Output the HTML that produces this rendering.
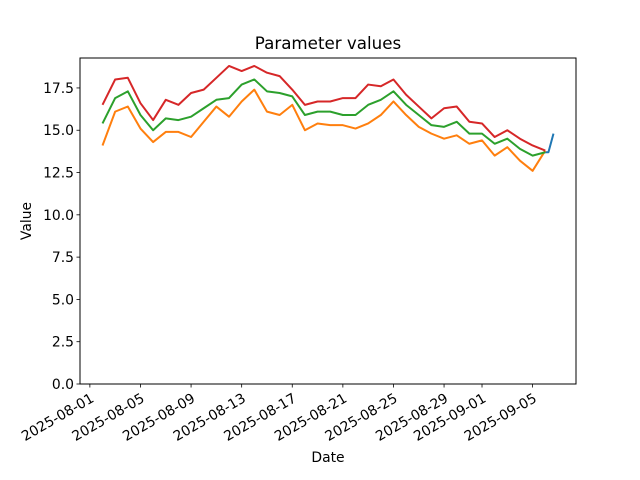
<!DOCTYPE html>
<html><head><meta charset="utf-8"><style>
html,body{margin:0;padding:0;background:#fff}
svg{display:block;font-family:"DejaVu Sans","Liberation Sans",sans-serif}
</style></head><body>
<svg id="chart" width="640" height="480" viewBox="0 0 640 480" xmlns="http://www.w3.org/2000/svg">
<rect width="640" height="480" fill="#fff"/>
<text x="328" y="49" font-size="16.7" text-anchor="middle">Parameter values</text>
<g id="plot"></g>
<rect x="80" y="58" width="496" height="326" fill="none" stroke="#000" stroke-width="1"/>
<text x="328" y="462" font-size="13.9" text-anchor="middle">Date</text>
<text x="31" y="221" font-size="13.9" text-anchor="middle" transform="rotate(-90 31 221)">Value</text>
</svg>
<script>
// days since 2025-08-01
const dayIndex = [1,2,3,4,5,6,7,8,9,10,11,12,13,14,15,16,17,18,19,20,21,22,23,24,25,26,27,28,29,30,31,32,33,34,35,36];
const redValues = [16.5,18.0,18.1,16.6,15.6,16.8,16.5,17.2,17.4,18.1,18.8,18.5,18.8,18.4,18.2,17.4,16.5,16.7,16.7,16.9,16.9,17.7,17.6,18.0,17.1,16.4,15.7,16.3,16.4,15.5,15.4,14.6,15.0,14.5,14.1,13.8];
const greenValues = [15.4,16.9,17.3,15.9,15.0,15.7,15.6,15.8,16.3,16.8,16.9,17.7,18.0,17.3,17.2,17.0,15.9,16.1,16.1,15.9,15.9,16.5,16.8,17.3,16.5,15.9,15.3,15.2,15.5,14.8,14.8,14.2,14.5,13.9,13.5,13.7];
const orangeValues = [14.1,16.1,16.4,15.1,14.3,14.9,14.9,14.6,15.5,16.4,15.8,16.7,17.4,16.1,15.9,16.5,15.0,15.4,15.3,15.3,15.1,15.4,15.9,16.7,15.9,15.2,14.8,14.5,14.7,14.2,14.4,13.5,14.0,13.2,12.6,13.8];
const blueDays = [36,36.25,36.65];
const blueValues = [13.7,13.7,14.8];
const xTickDays = [0,4,8,12,16,20,24,28,31,35];
const xTickLabels = ["2025-08-01","2025-08-05","2025-08-09","2025-08-13","2025-08-17","2025-08-21","2025-08-25","2025-08-29","2025-09-01","2025-09-05"];
const yTicks = [0,2.5,5,7.5,10,12.5,15,17.5];
const yTickLabels = ["0.0","2.5","5.0","7.5","10.0","12.5","15.0","17.5"];

const NS="http://www.w3.org/2000/svg";
const X0=80,X1=576,Y0=384,Y1=58;
const xmin=-0.78,xmax=38.43,ymin=0,ymax=19.27;
function xs(d){return X0+(d-xmin)/(xmax-xmin)*(X1-X0);}
function ys(v){return Y0-(v-ymin)/(ymax-ymin)*(Y0-Y1);}
const g=document.getElementById('plot');
function mk(t,a){const e=document.createElementNS(NS,t);for(const k in a)e.setAttribute(k,a[k]);return e;}

yTicks.forEach((v,i)=>{
  const y=ys(v);
  const t=mk('line',{x1:X0-3.5,x2:X0,y1:y,y2:y,stroke:'#000','stroke-width':0.8});
  
  
  g.appendChild(t);
  const l=mk('text',{x:X0-6,y:y+5,'font-size':13.9,'text-anchor':'end'});
  
  
  l.textContent=yTickLabels[i];g.appendChild(l);
});
xTickDays.forEach((d,i)=>{
  const x=xs(d);
  const t=mk('line',{x1:x,x2:x,y1:Y0,y2:Y0+3.5,stroke:'#000','stroke-width':0.8});
  
  
  g.appendChild(t);
  const ax=x+5, ay=Y0+17;
  const l=mk('text',{x:ax,y:ay,'font-size':13.9,'text-anchor':'end',transform:`rotate(-30 ${ax} ${ay})`});
  
  
  l.textContent=xTickLabels[i];g.appendChild(l);
});
function line(days,vals,color,name){
  const p=mk('polyline',{points:days.map((d,i)=>xs(d)+','+ys(vals[i])).join(' '),fill:'none',stroke:color,'stroke-width':2,'stroke-linejoin':'round'});
  
  
  g.appendChild(p);
}
line(blueDays,blueValues,'#1f77b4','blue-series-line');
line(dayIndex,orangeValues,'#ff7f0e','orange-series-line');
line(dayIndex,greenValues,'#2ca02c','green-series-line');
line(dayIndex,redValues,'#d62728','red-series-line');
</script>
</body></html>
